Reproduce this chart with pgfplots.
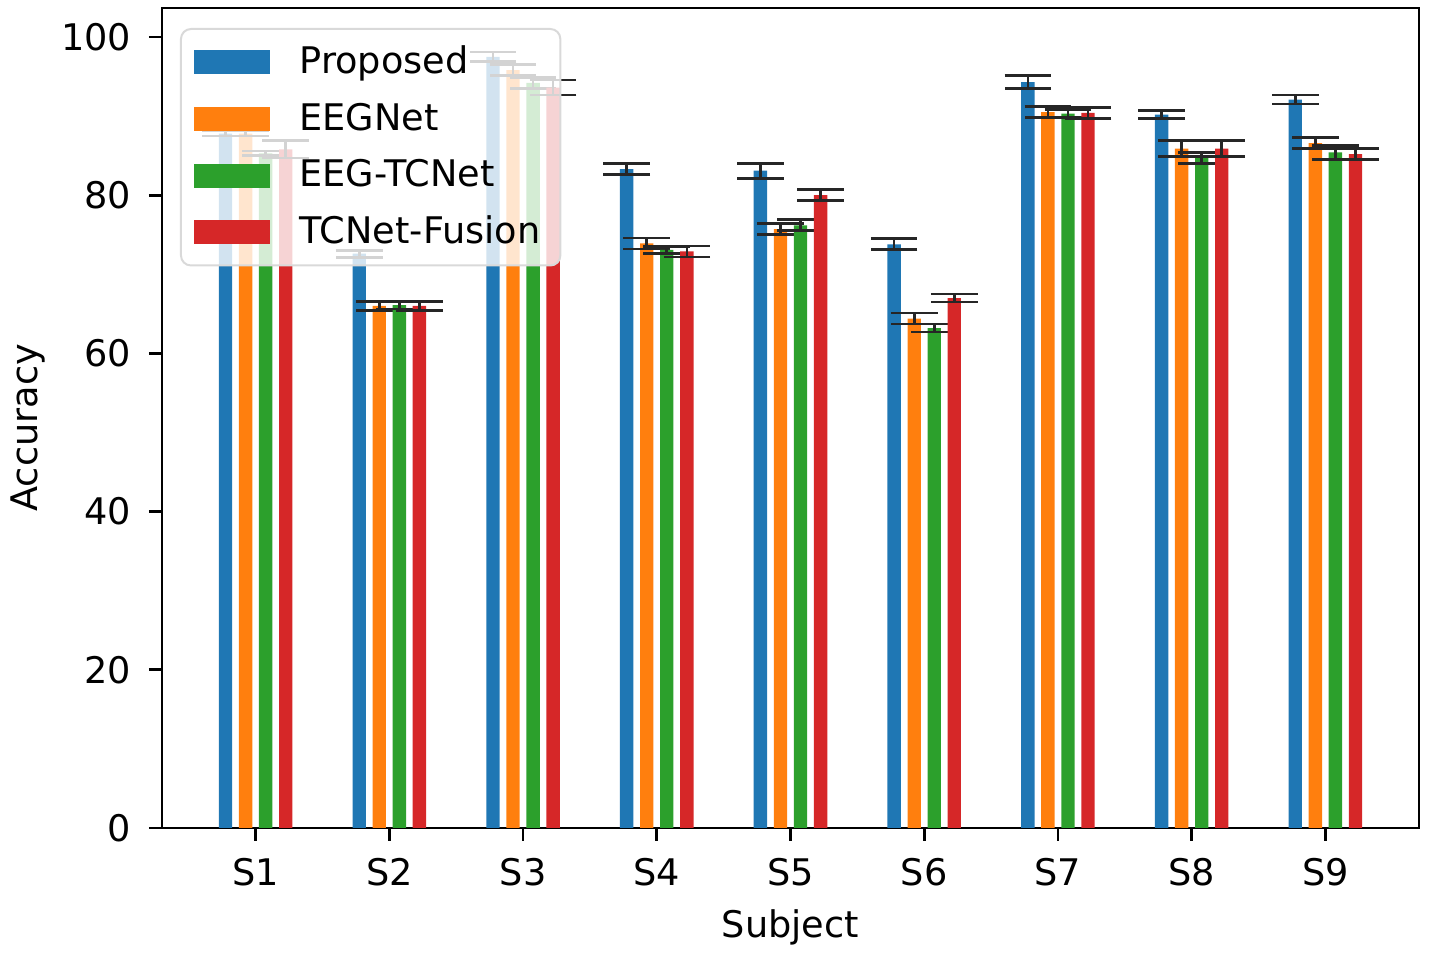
\documentclass[border=0pt]{standalone}
\usepackage{pgfplots}
\pgfplotsset{compat=1.18}
\usepackage{pgfplotstable}
\usepackage{fontspec}
\setmainfont{DejaVu Sans}
\definecolor{tabblue}{HTML}{1F77B4}
\definecolor{taborange}{HTML}{FF7F0E}
\definecolor{tabgreen}{HTML}{2CA02C}
\definecolor{tabred}{HTML}{D62728}
\pgfplotstableread{
idx p pe e ee t te f fe
0 87.8 0.3 87.8 0.3 85.3 0.3 85.8 1.1
1 72.6 0.45 66.0 0.6 66.1 0.5 66.0 0.6
2 97.5 0.6 95.8 0.7 94.2 0.7 93.6 0.95
3 83.3 0.7 73.9 0.7 73.1 0.45 72.9 0.7
4 83.1 0.95 75.7 0.7 76.2 0.7 80.0 0.7
5 73.8 0.7 64.4 0.7 63.2 0.5 67.0 0.5
6 94.3 0.8 90.5 0.7 90.3 0.5 90.4 0.7
7 90.2 0.5 85.9 1.0 84.7 0.7 85.9 1.0
8 92.1 0.55 86.6 0.7 85.4 0.9 85.2 0.7
}\data
\pgfplotsset{mylegend/.style={legend image code/.code={\fill[##1,draw=none,sharp corners,fill opacity=1] (0pt,-3.6pt) rectangle (22.8pt,3.6pt); \path (29.6pt,0pt);}}}
\begin{document}
\begin{tikzpicture}
\path[use as bounding box] (-48.6pt,-37.5pt) rectangle (380.1pt,248.4pt);
\begin{axis}[
  at={(0,0)}, anchor=south west,
  scale only axis, width=377.1pt, height=246pt,
  xmin=-0.7, xmax=8.7, ymin=0, ymax=103.67,
  ybar, bar width=0.1,
  xtick={0,1,2,3,4,5,6,7,8},
  xticklabels={S1,S2,S3,S4,S5,S6,S7,S8,S9},
  ytick={0,20,40,60,80,100},
  tick align=outside, major tick length=3.9pt,
  tick style={line width=0.8pt, black},
  axis line style={line width=0.8pt},
  xtick pos=bottom, ytick pos=left,
  /pgf/number format/assume math mode=true,
  ticklabel style={font=\fontsize{11}{13}\selectfont},
  xticklabel style={yshift=-1.8pt},
  yticklabel style={xshift=-1.8pt},
  label style={font=\fontsize{11}{13}\selectfont},
  xlabel={Subject},
  xlabel style={at={(axis description cs:0.5,-0.133)}, anchor=base, inner sep=0pt},
  ylabel={Accuracy},
  ylabel style={at={(axis description cs:-0.121,0.488)}, anchor=north, rotate=0, inner sep=0pt},
  legend cell align=left,
  legend style={at={(axis description cs:0.0143,0.9756)}, anchor=north west,
    draw=black!15, line width=0.6pt, rounded corners=3pt, fill=white, fill opacity=0.8, text opacity=1,
    font=\fontsize{11}{13}\selectfont, inner xsep=4pt, inner ysep=3pt, row sep=3.3pt},
  error bars/error mark=|,
  error bars/error bar style={line width=0.8pt, black!85},
  error bars/error mark options={line width=0.8pt, black!85, mark size=7pt},
]
\addplot[fill=tabblue, draw=none, bar shift=0pt, mylegend, error bars/.cd, y dir=both, y explicit] table[x expr=\thisrow{idx}-0.225, y=p, y error=pe] {\data};
\addplot[fill=taborange, draw=none, bar shift=0pt, mylegend, error bars/.cd, y dir=both, y explicit] table[x expr=\thisrow{idx}-0.075, y=e, y error=ee] {\data};
\addplot[fill=tabgreen, draw=none, bar shift=0pt, mylegend, error bars/.cd, y dir=both, y explicit] table[x expr=\thisrow{idx}+0.075, y=t, y error=te] {\data};
\addplot[fill=tabred, draw=none, bar shift=0pt, mylegend, error bars/.cd, y dir=both, y explicit] table[x expr=\thisrow{idx}+0.225, y=f, y error=fe] {\data};
\legend{Proposed,EEGNet,EEG-TCNet,TCNet-Fusion}
\end{axis}
\end{tikzpicture}
\end{document}
